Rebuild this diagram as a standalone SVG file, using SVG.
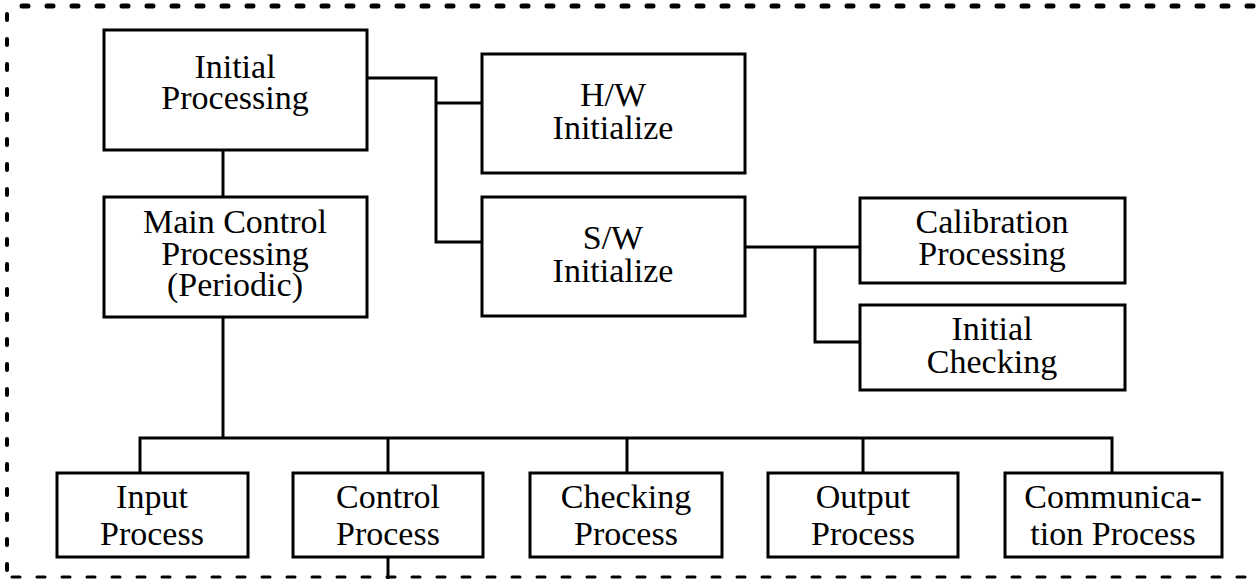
<svg xmlns="http://www.w3.org/2000/svg" width="1258" height="579" viewBox="0 0 1258 579">
  <style>
    .box { fill: #ffffff; stroke: #000000; stroke-width: 3; }
    .wire { fill: none; stroke: #000000; stroke-width: 3; stroke-linejoin: miter; }
    .lbl { font-family: "Liberation Serif", "Times New Roman", serif; font-size: 34px; fill: #000000; text-anchor: middle; }
    .frame { fill: none; stroke: #000000; stroke-linecap: round; }
  </style>
  <rect width="1258" height="579" fill="#ffffff"/>

  <!-- dashed enclosure -->
  <g id="frame">
    <line class="frame" x1="22" y1="6" x2="1254" y2="6" stroke-width="5" stroke-dasharray="6 19"/>
    <line class="frame" x1="7" y1="14" x2="7" y2="570" stroke-width="4" stroke-dasharray="6 19"/>
    <line class="frame" x1="12" y1="577" x2="1254" y2="577" stroke-width="3" stroke-dasharray="8 17"/>
  </g>

  <!-- connectors -->
  <g id="connectors">
    <polyline class="wire" points="223,150 223,197"/>
    <polyline class="wire" points="367,78 436,78 436,242 482,242"/>
    <polyline class="wire" points="436,103 482,103"/>
    <polyline class="wire" points="745,247 860,247"/>
    <polyline class="wire" points="815,247 815,342 860,342"/>
    <polyline class="wire" points="223,317 223,438"/>
    <polyline class="wire" points="140,473 140,438 1112,438 1112,473"/>
    <polyline class="wire" points="388,438 388,473"/>
    <polyline class="wire" points="627,438 627,473"/>
    <polyline class="wire" points="863,438 863,473"/>
    <polyline class="wire" points="388,557 388,579"/>
  </g>

  <g id="initial-processing">
    <rect class="box" x="104" y="30" width="263" height="120"/>
    <text class="lbl" x="235" y="78">Initial</text>
    <text class="lbl" x="235" y="109">Processing</text>
  </g>

  <g id="hw-initialize">
    <rect class="box" x="482" y="54" width="263" height="119"/>
    <text class="lbl" x="613" y="106">H/W</text>
    <text class="lbl" x="613" y="139">Initialize</text>
  </g>

  <g id="main-control">
    <rect class="box" x="104" y="197" width="263" height="120"/>
    <text class="lbl" x="235" y="233">Main Control</text>
    <text class="lbl" x="235" y="265">Processing</text>
    <text class="lbl" x="235" y="296">(Periodic)</text>
  </g>

  <g id="sw-initialize">
    <rect class="box" x="482" y="197" width="263" height="119"/>
    <text class="lbl" x="613" y="249">S/W</text>
    <text class="lbl" x="613" y="282">Initialize</text>
  </g>

  <g id="calibration">
    <rect class="box" x="860" y="198" width="265" height="85"/>
    <text class="lbl" x="992" y="233">Calibration</text>
    <text class="lbl" x="992" y="265">Processing</text>
  </g>

  <g id="initial-checking">
    <rect class="box" x="860" y="305" width="265" height="85"/>
    <text class="lbl" x="992" y="340">Initial</text>
    <text class="lbl" x="992" y="373">Checking</text>
  </g>

  <g id="input-process">
    <rect class="box" x="57" y="473" width="191" height="84"/>
    <text class="lbl" x="152" y="508">Input</text>
    <text class="lbl" x="152" y="545">Process</text>
  </g>

  <g id="control-process">
    <rect class="box" x="293" y="473" width="190" height="84"/>
    <text class="lbl" x="388" y="508">Control</text>
    <text class="lbl" x="388" y="545">Process</text>
  </g>

  <g id="checking-process">
    <rect class="box" x="530" y="473" width="192" height="84"/>
    <text class="lbl" x="626" y="508">Checking</text>
    <text class="lbl" x="626" y="545">Process</text>
  </g>

  <g id="output-process">
    <rect class="box" x="768" y="473" width="190" height="84"/>
    <text class="lbl" x="863" y="508">Output</text>
    <text class="lbl" x="863" y="545">Process</text>
  </g>

  <g id="communication-process">
    <rect class="box" x="1005" y="473" width="217" height="84"/>
    <text class="lbl" x="1113" y="508">Communica-</text>
    <text class="lbl" x="1113" y="545">tion Process</text>
  </g>
</svg>
